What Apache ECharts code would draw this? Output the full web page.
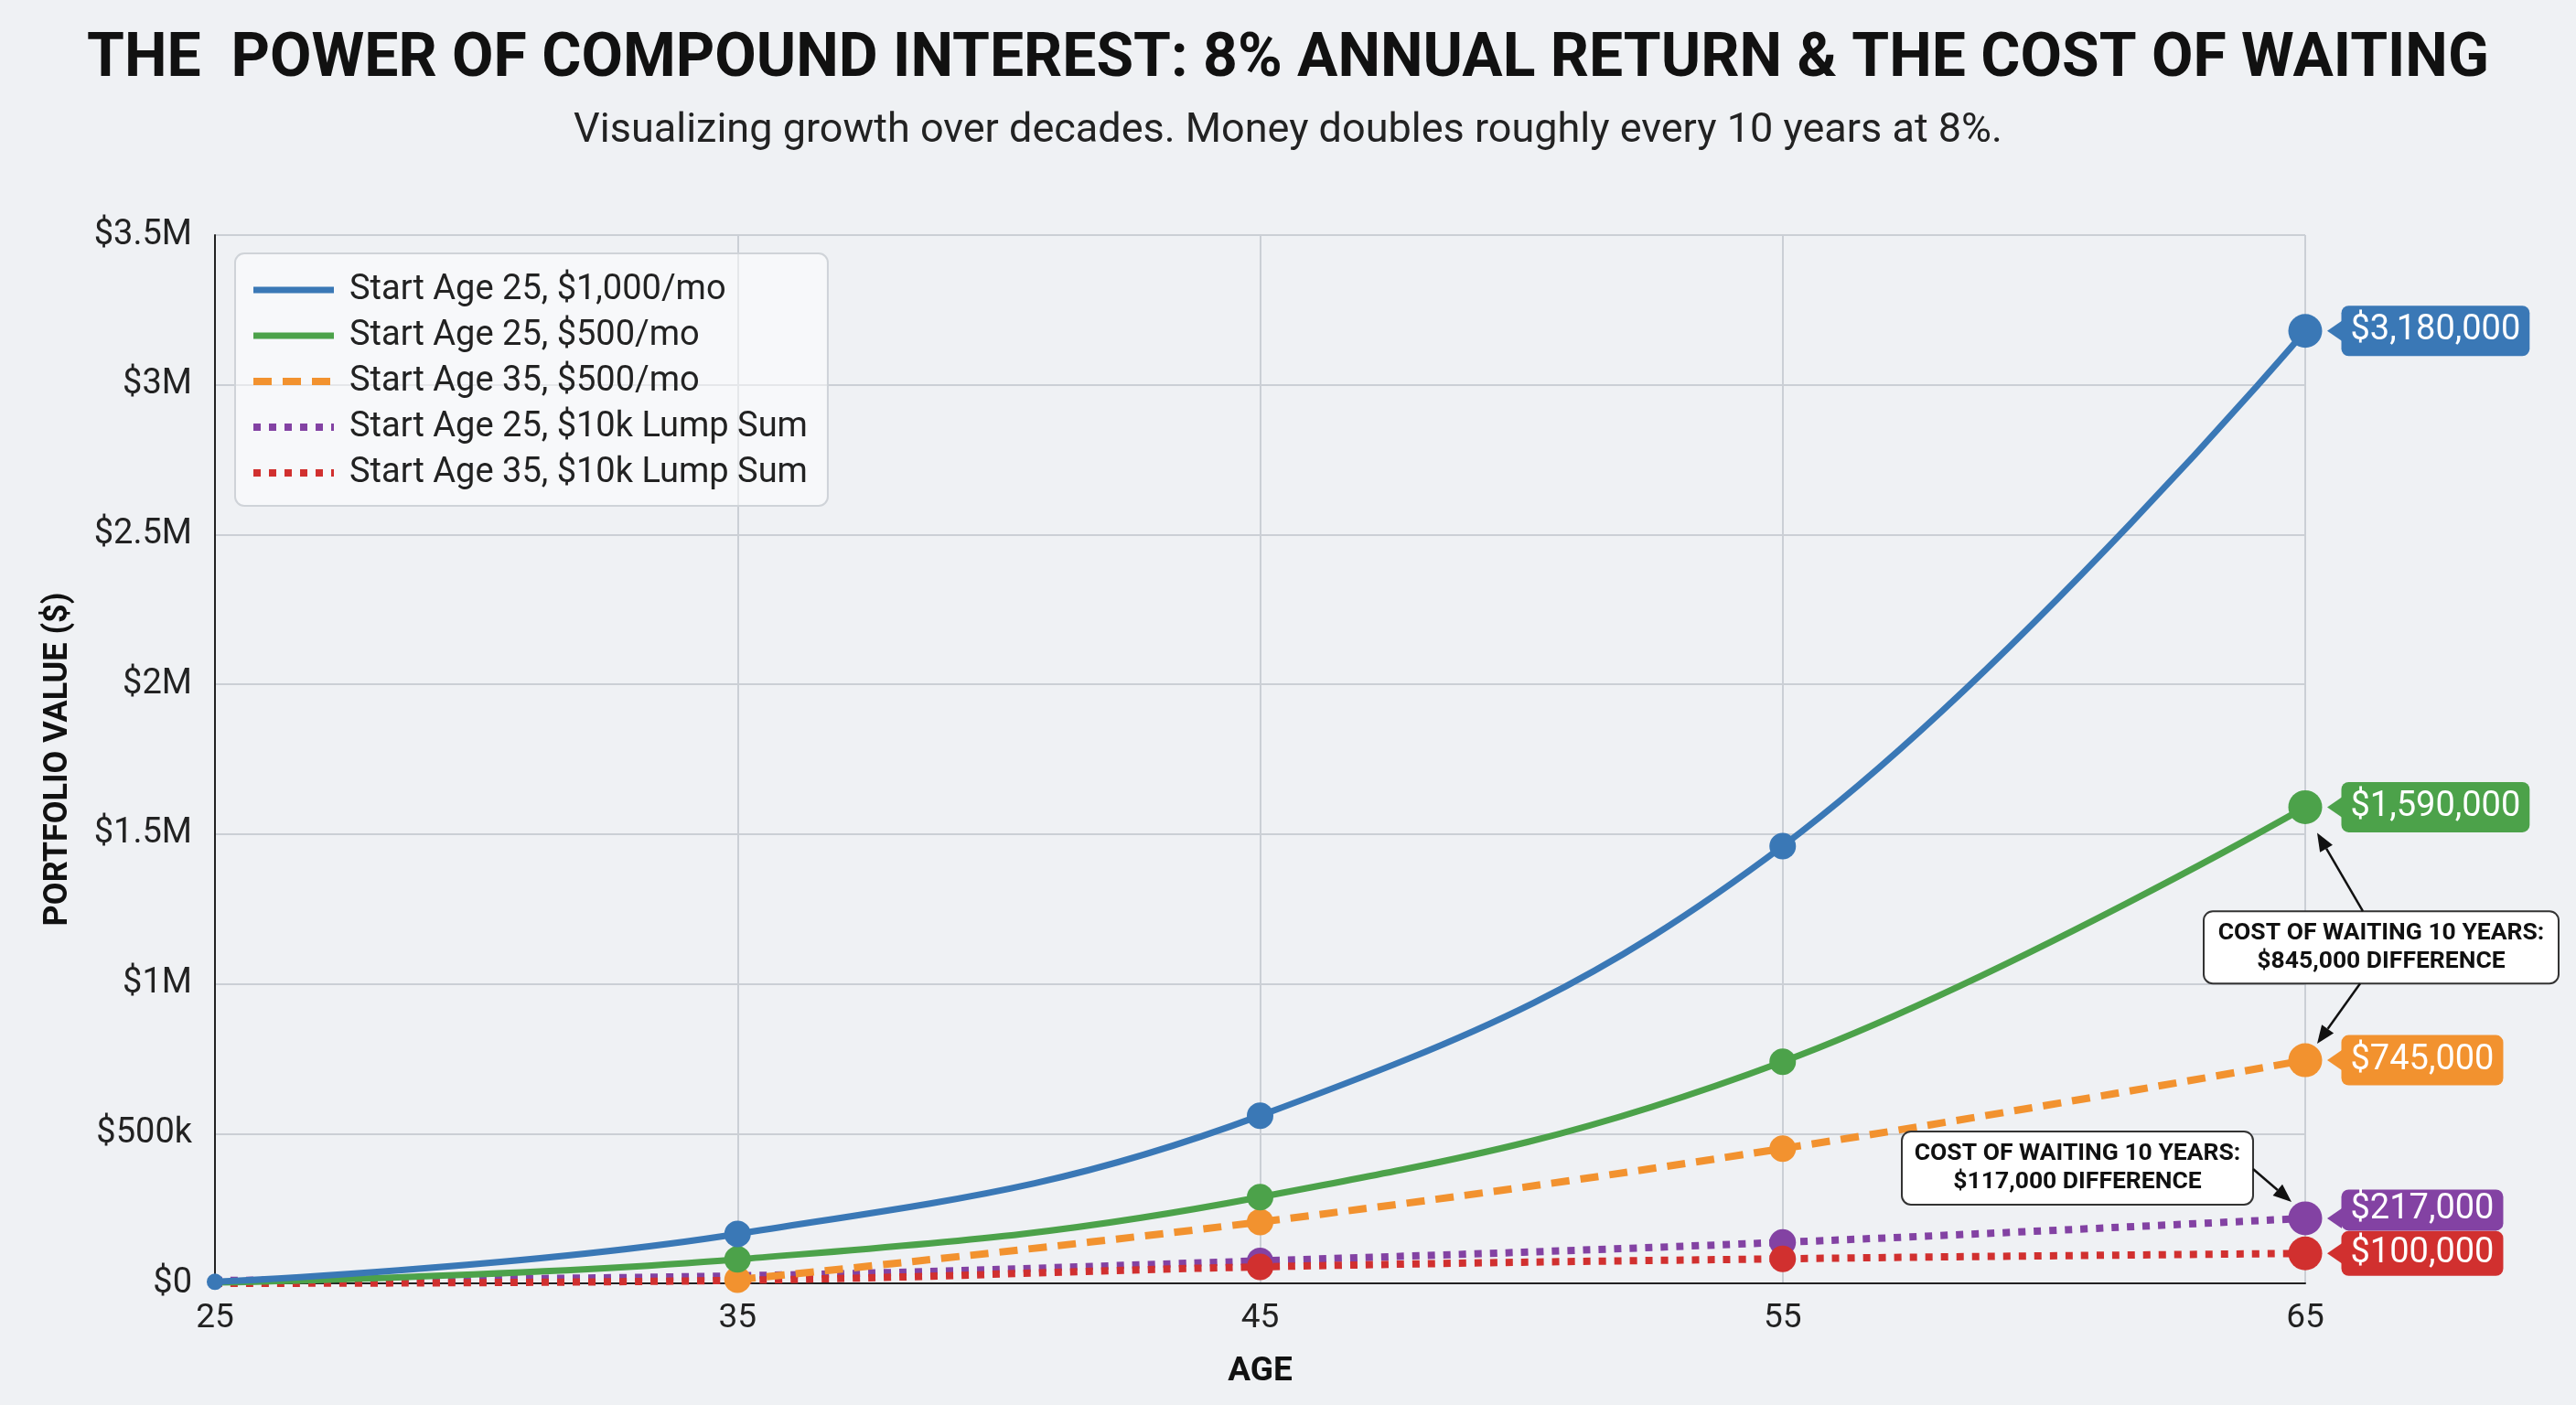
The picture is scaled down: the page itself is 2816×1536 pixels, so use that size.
<!DOCTYPE html>
<html>
<head>
<meta charset="utf-8">
<script src="https://cdn.jsdelivr.net/npm/echarts@6/dist/echarts.min.js"></script>
<style>
html,body{margin:0;padding:0;background:#eff1f4;}
#chart{width:2816px;height:1536px;}
</style>
</head>
<body>
<div id="chart"></div>
<script>
// ---- data ----
const ages = ['25', '35', '45', '55', '65'];
const start25_1000 = [5000, 165000, 560000, 1460000, 3180000];
const start25_500 = [3000, 80000, 288000, 740000, 1590000];
const start35_500 = [null, 12000, 205000, 450000, 745000];
const start25_lump = [10000, 25000, 75000, 137000, 217000];
const start35_lump = [0, 10000, 55000, 82000, 100000];
const seriesNames = [
  'Start Age 25, $1,000/mo',
  'Start Age 25, $500/mo',
  'Start Age 35, $500/mo',
  'Start Age 25, $10k Lump Sum',
  'Start Age 35, $10k Lump Sum'
];
const annotation1 = ['COST OF WAITING 10 YEARS:', '$845,000 DIFFERENCE'];
const annotation2 = ['COST OF WAITING 10 YEARS:', '$117,000 DIFFERENCE'];

const FONT = 'Roboto';
const C = {
  blue: '#3a78b6', green: '#4ca24a', orange: '#f2922f', purple: '#8342a3', red: '#d1302f'
};

const chart = echarts.init(document.getElementById('chart'));

function yFmt(v) {
  if (v === 0) return '$0';
  if (v < 1000000) return '$' + (v / 1000) + 'k';
  return '$' + (v / 1000000) + 'M';
}

function mkSeries(name, values, color, lineType, width, opts) {
  const last = values.length - 1;
  return {
    name: name,
    type: 'line',
    smooth: 0.4,
    symbol: 'circle',
    symbolSize: function (v, p) {
      if (p.dataIndex === last) return 37;
      if (opts.hide && opts.hide.indexOf(p.dataIndex) >= 0) return 0;
      return opts.firstSize != null && p.dataIndex === 0 ? opts.firstSize : 29;
    },
    showSymbol: true,
    connectNulls: false,
    lineStyle: { color: color, width: width, type: lineType },
    itemStyle: { color: color },
    emphasis: { disabled: true },
    z: opts.z || 2,
    data: values.map(function (v, i) {
      if (i !== last) return v;
      return {
        value: v,
        label: {
          show: true,
          position: 'right',
          distance: 21,
          formatter: '$' + v.toLocaleString('en-US'),
          backgroundColor: color,
          color: '#ffffff',
          fontFamily: FONT,
          fontSize: 38,
          lineHeight: 38,
          padding: opts.pad || [9, 10, 8, 10],
          borderRadius: 8,
          offset: opts.offset || [0, 0]
        }
      };
    }),
    markPoint: {
      silent: true,
      animation: false,
      label: { show: false },
      data: [{
        coord: [last, values[last]],
        symbol: 'triangle',
        symbolSize: [22, 16],
        symbolRotate: 90,
        symbolOffset: [32, 0],
        itemStyle: { color: color }
      }]
    }
  };
}

const option = {
  backgroundColor: '#eff1f4',
  animation: false,
  title: [
    {
      text: 'THE  POWER OF COMPOUND INTEREST: 8% ANNUAL RETURN & THE COST OF WAITING',
      left: 'center', top: 28,
      textStyle: { fontFamily: FONT, fontSize: 66, fontWeight: 'bold', color: '#111', lineHeight: 66 }
    },
    {
      text: 'Visualizing growth over decades. Money doubles roughly every 10 years at 8%.',
      left: 'center', top: 116,
      textStyle: { fontFamily: FONT, fontSize: 45, fontWeight: 'normal', color: '#222', lineHeight: 45 }
    }
  ],
  legend: {
    orient: 'vertical',
    left: 257, top: 277,
    itemWidth: 88, itemHeight: 14, itemGap: 12,
    padding: [21, 22, 17, 16],
    backgroundColor: 'rgba(255,255,255,0.5)',
    borderColor: '#cfd3d8', borderWidth: 2, borderRadius: 10,
    textStyle: { fontFamily: FONT, fontSize: 38, color: '#222', lineHeight: 36, padding: [0, 0, 0, 12] },
    itemStyle: { opacity: 0 },
    lineStyle: { width: 'inherit' },
    data: seriesNames
  },
  grid: { left: 235, right: 296, top: 257, bottom: 133 },
  xAxis: {
    type: 'category',
    data: ages,
    boundaryGap: false,
    name: 'AGE',
    nameLocation: 'middle',
    nameGap: 78,
    nameTextStyle: { fontFamily: FONT, fontSize: 37, fontWeight: 'bold', color: '#111' },
    axisLine: { show: true, lineStyle: { color: '#222', width: 2 } },
    axisTick: { show: false },
    axisLabel: { fontFamily: FONT, fontSize: 37, color: '#222', margin: 20 },
    splitLine: { show: true, lineStyle: { color: '#cbcfd5', width: 2 } }
  },
  yAxis: {
    type: 'value',
    min: 0, max: 3500000, interval: 500000,
    name: 'PORTFOLIO VALUE ($)',
    nameLocation: 'middle',
    nameGap: 153,
    nameTextStyle: { fontFamily: FONT, fontSize: 36, fontWeight: 'bold', color: '#111' },
    axisLine: { show: true, lineStyle: { color: '#222', width: 2 } },
    axisTick: { show: false },
    axisLabel: { fontFamily: FONT, fontSize: 38, color: '#222', margin: 25, formatter: yFmt },
    splitLine: { show: true, lineStyle: { color: '#cbcfd5', width: 2 } }
  },
  series: [
    mkSeries(seriesNames[0], start25_1000, C.blue, 'solid', 7, { firstSize: 18, z: 6 }),
    mkSeries(seriesNames[1], start25_500, C.green, 'solid', 7, { hide: [0], z: 5 }),
    mkSeries(seriesNames[2], start35_500, C.orange, [20, 12], 8, { hide: [0], z: 4 }),
    mkSeries(seriesNames[3], start25_lump, C.purple, [8, 9], 8, { hide: [0, 1], z: 3, offset: [0, -9], pad: [4, 10, 3, 10] }),
    mkSeries(seriesNames[4], start35_lump, C.red, [8, 9], 8, { hide: [0, 1], z: 3, pad: [6, 10, 5, 10] })
  ]
};
chart.setOption(option);

// ---- annotations anchored to data points ----
function px(i, v) { return chart.convertToPixel({ gridIndex: 0 }, [i, v]); }
function arrow(x1, y1, x2, y2) {
  const dx = x2 - x1, dy = y2 - y1, L = Math.sqrt(dx * dx + dy * dy);
  const ux = dx / L, uy = dy / L, hl = 20, hw = 8;
  const bx = x2 - ux * hl, by = y2 - uy * hl;
  return [
    { type: 'line', z: 50, shape: { x1: x1, y1: y1, x2: bx, y2: by }, style: { stroke: '#111', lineWidth: 2.5 } },
    { type: 'polygon', z: 50, shape: { points: [[x2, y2], [bx - uy * hw, by + ux * hw], [bx + uy * hw, by - ux * hw]] }, style: { fill: '#111' } }
  ];
}
function box(cx, cy, w, h, lines) {
  return [
    { type: 'rect', z: 50, shape: { x: cx - w / 2, y: cy - h / 2, width: w, height: h, r: 10 }, style: { fill: '#ffffff', stroke: '#333', lineWidth: 2 } },
    { type: 'text', z: 51, x: cx, y: cy, style: { text: lines.join('\n'), fill: '#111', font: 'bold 26.5px Roboto', align: 'center', verticalAlign: 'middle', lineHeight: 31 } }
  ];
}
const last = ages.length - 1;
const pG = px(last, start25_500[last]);
const pO = px(last, start35_500[last]);
const pP = px(last, start25_lump[last]);
const b1 = { cx: pG[0] + 83, cy: (pG[1] + pO[1]) / 2 + 15, w: 388, h: 79 };
const b2 = { cx: pP[0] - 249, cy: pP[1] - 55, w: 384, h: 80 };
let els = [];
els = els.concat(box(b1.cx, b1.cy, b1.w, b1.h, annotation1));
els = els.concat(arrow(b1.cx - 20, b1.cy - b1.h / 2, pG[0] + 13, pG[1] + 28));
els = els.concat(arrow(b1.cx - 23, b1.cy + b1.h / 2, pO[0] + 13, pO[1] - 18));
els = els.concat(box(b2.cx, b2.cy, b2.w, b2.h, annotation2));
els = els.concat(arrow(b2.cx + b2.w / 2, b2.cy + 1, pP[0] - 15, pP[1] - 18));
chart.setOption({ graphic: { elements: els } });
</script>
</body>
</html>
